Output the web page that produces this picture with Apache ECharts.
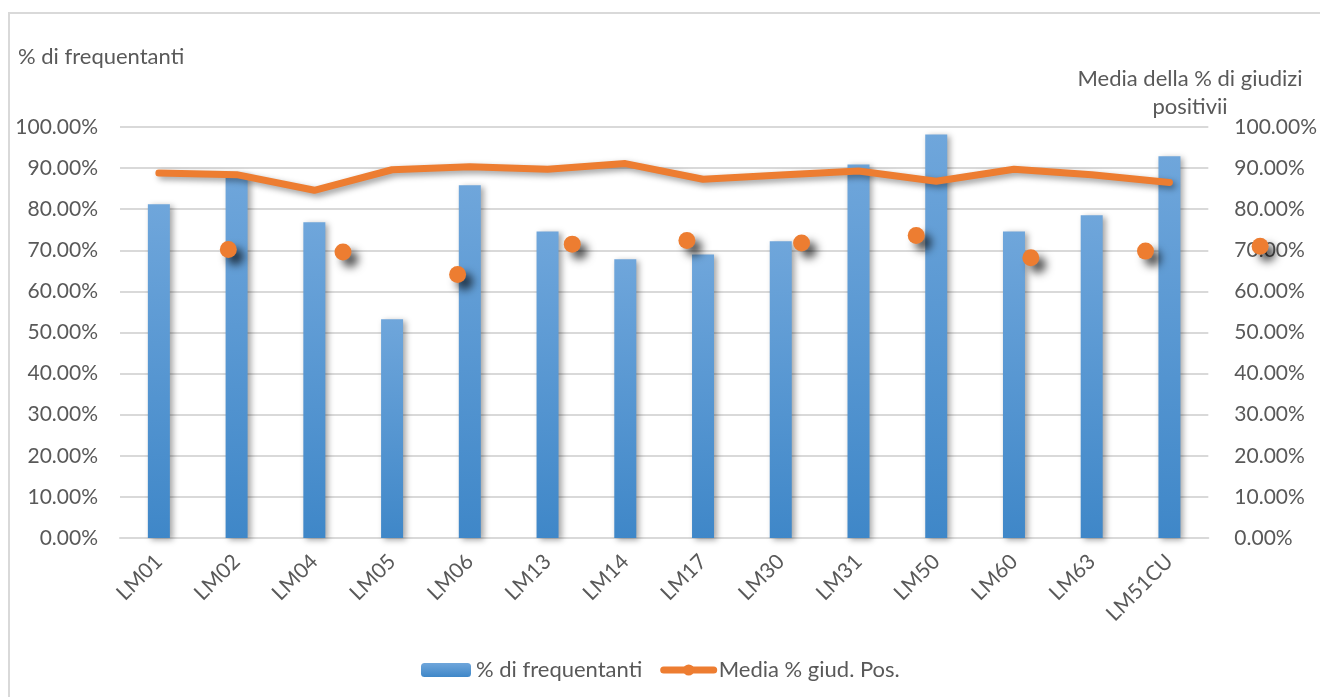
<!DOCTYPE html>
<html>
<head>
    <meta charset="UTF-8">
    <title>Frequentanti e giudizi</title>
    <script src="https://cdn.jsdelivr.net/npm/echarts@6/dist/echarts.min.js"></script>
    <style>
        html, body { margin: 0; padding: 0; background: #fff; }
        #main { width: 1320px; height: 697px; }
    </style>
</head>
<body>
<div id="main"></div>
<script>
    // categorie corsi di laurea
    var categorie = ['LM01', 'LM02', 'LM04', 'LM05', 'LM06', 'LM13', 'LM14', 'LM17', 'LM30', 'LM31', 'LM50', 'LM60', 'LM63', 'LM51CU'];
    // % di frequentanti (barre)
    var frequentanti = [81.2, 88.5, 76.8, 53.2, 85.8, 74.6, 67.8, 69.0, 72.2, 90.9, 98.2, 74.6, 78.5, 92.9];
    // media % giudizi positivi (linea)
    var mediaGiudizi = [88.8, 88.4, 84.6, 89.6, 90.3, 89.7, 91.1, 87.3, 88.3, 89.3, 86.8, 89.7, 88.4, 86.5];
    // punti sparsi della stessa serie (asse secondario)
    var puntiGiudizi = [70.2, 69.6, 64.1, 71.5, 72.4, 71.8, 73.6, 68.2, 69.8, 71.0];

    var grigio = '#595959';
    var font = 'Lato, "Open Sans", sans-serif';
    var arancio = '#ED7D31';

    var puntiData = puntiGiudizi.map(function (v, i) { return [i + 1, v]; });

    function fmt(v) { return v.toFixed(2) + '%'; }

    var barColor = new echarts.graphic.LinearGradient(0, 0, 0, 1, [
        {offset: 0, color: '#6FA6DB'},
        {offset: 1, color: '#3F87C8'}
    ]);

    var option = {
        animation: false,
        textStyle: {fontFamily: font},
        graphic: [
            {
                type: 'rect', silent: true,
                shape: {x: 9, y: 13, width: 1400, height: 800},
                style: {fill: 'none', stroke: '#D9D9D9', lineWidth: 2}
            },
            {
                type: 'text', left: 18, top: 46,
                style: {text: '% di frequentanti', fill: grigio, font: '22px ' + font}
            },
            {
                type: 'text', x: 1190, y: 65,
                style: {
                    text: 'Media della % di giudizi\npositivii', fill: grigio,
                    font: '22px ' + font, align: 'center', lineHeight: 28
                }
            }
        ],
        legend: {
            left: 416,
            top: 654,
            itemWidth: 50,
            itemHeight: 14,
            itemGap: 18,
            data: [
                {name: '% di frequentanti'},
                {name: 'Media % giud. Pos.', lineStyle: {width: 7, color: arancio}}
            ],
            textStyle: {color: grigio, fontSize: 22, fontFamily: font}
        },
        grid: {left: 120, right: 108, top: 127, bottom: 159},
        xAxis: [
            {
                type: 'category',
                data: categorie,
                axisTick: {show: false},
                axisLine: {lineStyle: {color: '#D9D9D9', width: 2}},
                axisLabel: {rotate: 45, color: grigio, fontSize: 21, margin: 20, fontFamily: font}
            },
            {
                type: 'value',
                show: false,
                min: 0.055,
                max: 9.548
            }
        ],
        yAxis: [
            {
                type: 'value', min: 0, max: 100, interval: 10,
                axisLine: {show: false}, axisTick: {show: false},
                splitLine: {lineStyle: {color: '#D9D9D9', width: 2}},
                axisLabel: {color: grigio, fontSize: 21, margin: 22, formatter: fmt, fontFamily: font}
            },
            {
                type: 'value', min: 0, max: 100, interval: 10,
                axisLine: {show: false}, axisTick: {show: false},
                splitLine: {show: false},
                axisLabel: {color: grigio, fontSize: 21, margin: 26, formatter: fmt, fontFamily: font}
            }
        ],
        series: [
            {
                name: '% di frequentanti',
                type: 'bar',
                data: frequentanti,
                barWidth: 22,
                itemStyle: {
                    color: barColor,
                    shadowColor: 'rgba(0,0,0,0.35)',
                    shadowBlur: 6,
                    shadowOffsetX: 3,
                    shadowOffsetY: 2
                }
            },
            {
                name: 'Media % giud. Pos.',
                type: 'line',
                data: mediaGiudizi,
                symbol: 'circle',
                symbolSize: 12,
                showSymbol: false,
                z: 3,
                itemStyle: {color: arancio},
                lineStyle: {
                    color: arancio, width: 7, cap: 'round', join: 'round',
                    shadowColor: 'rgba(0,0,0,0.4)', shadowBlur: 6,
                    shadowOffsetX: 3, shadowOffsetY: 3
                }
            },
            {
                name: 'Media % giud. Pos.',
                type: 'scatter',
                xAxisIndex: 1,
                yAxisIndex: 1,
                data: puntiData,
                clip: false,
                symbolSize: 17,
                z: 4,
                itemStyle: {
                    color: arancio, opacity: 1,
                    shadowColor: 'rgba(0,0,0,0.65)', shadowBlur: 9,
                    shadowOffsetX: 7, shadowOffsetY: 7
                }
            }
        ]
    };

    var myChart = echarts.init(document.getElementById('main'));
    myChart.setOption(option);
</script>
</body>
</html>
